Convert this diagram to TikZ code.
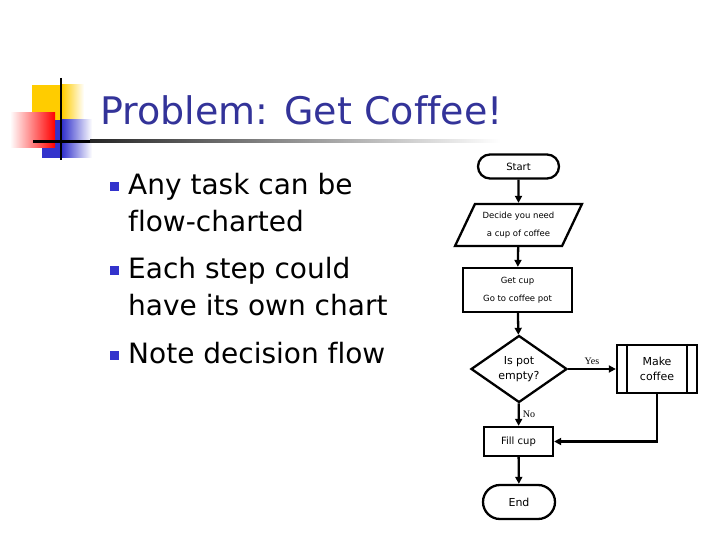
\documentclass[tikz,border=0pt]{standalone}
\usepackage{fontspec}
\setmainfont{DejaVu Sans}[Ligatures=NoCommon]
\newfontfamily\labelfont{Liberation Serif}
\usepackage{xcolor}
\usepackage{tikz}
\usetikzlibrary{arrows.meta,positioning,shapes.geometric,shapes.misc}
\definecolor{titleblue}{RGB}{51,51,153}
\definecolor{bulletblue}{RGB}{51,51,204}
\definecolor{logoyellow}{RGB}{255,204,0}
\definecolor{logored}{RGB}{255,0,0}

\begin{document}
\begin{tikzpicture}[x=1pt,y=-1pt,>={Triangle[length=7pt,width=7pt]},
 term/.style={draw,line width=2.3pt,rounded rectangle,inner sep=0pt,font=\fontsize{10}{12}\selectfont},
 io/.style={draw,line width=2.3pt,trapezium,trapezium left angle=58,trapezium right angle=122,trapezium stretches=true,inner sep=0pt,align=center,minimum width=127pt,minimum height=42pt,font=\fontsize{8.5}{18}\selectfont},
 proc/.style={draw,line width=2.3pt,rectangle,inner sep=0pt,align=center},
 decision/.style={draw,line width=2.3pt,diamond,inner sep=0pt,align=center,minimum width=96pt,minimum height=67pt,font=\fontsize{11}{15}\selectfont},
 line/.style={->,line width=2.3pt},
 yesno/.style={font=\labelfont\fontsize{10}{11}\selectfont,inner sep=3pt},
 bullet/.style={fill=bulletblue,minimum size=9pt,inner sep=0pt},
 point/.style={anchor=base west,inner sep=0pt,font=\fontsize{28}{30}\selectfont}]
\useasboundingbox[fill=white] (0,0) rectangle (720,540);
% logo
\fill[logoyellow] (32,85) rectangle (62,120);
\shade[left color=logoyellow,right color=white] (62,85) rectangle (84,120);
\fill[bulletblue] (42,120) rectangle (62,158);
\shade[left color=bulletblue,right color=white] (62,120) rectangle (92,158);
\shade[left color=white,right color=logored] (10,113) rectangle (55,148);
\draw[line width=2pt] (61,78) -- (61,160);
\fill[black] (33,140) rectangle (90,143);
\shade[left color=black!85,right color=white] (90,140) rectangle (500,143);
% title and points
\node[anchor=base west,inner sep=0pt,text=titleblue,font=\fontsize{38}{40}\selectfont] (title) at (100,125) {Problem: Get Coffee!};
\node[bullet] (b1) at (114,187) {};
\node[bullet] (b2) at (114,270) {};
\node[bullet] (b3) at (114,355) {};
\node[point] (p1) at (128,195) {Any task can be};
\node[point] (p2) at (128,232) {flow-charted};
\node[point] (p3) at (128,278) {Each step could};
\node[point] (p4) at (128,315) {have its own chart};
\node[point] (p5) at (128,363) {Note decision flow};
% flow chart
\node[term,minimum width=81pt,minimum height=24pt] (start) at (518.5,166.5) {Start};
\node[io] (decide) at (518.5,225) {Decide you need\\a cup of coffee};
\node[proc,minimum width=109pt,minimum height=44pt,font=\fontsize{8.5}{18}\selectfont] (getcup) at (517.5,290) {Get cup\\Go to coffee pot};
\node[decision] (pot) at (519,369) {Is pot\\empty?};
\node[proc,minimum width=80pt,minimum height=48pt,font=\fontsize{11}{15}\selectfont] (make) at (657,369) {Make\\coffee};
\draw[line width=2.3pt] ([xshift=11pt]make.north west) -- ([xshift=11pt]make.south west);
\draw[line width=2.3pt] ([xshift=-11pt]make.north east) -- ([xshift=-11pt]make.south east);
\node[proc,minimum width=69pt,minimum height=29pt,font=\fontsize{10}{12}\selectfont] (fill) at (518.5,441.5) {Fill cup};
\node[term,minimum width=72pt,minimum height=34pt,font=\fontsize{11}{12}\selectfont] (end) at (519,502) {End};
\draw[line] (start) -- (decide);
\draw[line] (decide) -- (getcup);
\draw[line] (getcup) -- (pot);
\draw[line] (pot) -- node[yesno,above] {Yes} (make);
\draw[line] (pot) -- node[yesno,right] {No} (fill);
\draw[line] (make.south) |- (fill.east);
\draw[line] (fill) -- (end);
\end{tikzpicture}
\end{document}
